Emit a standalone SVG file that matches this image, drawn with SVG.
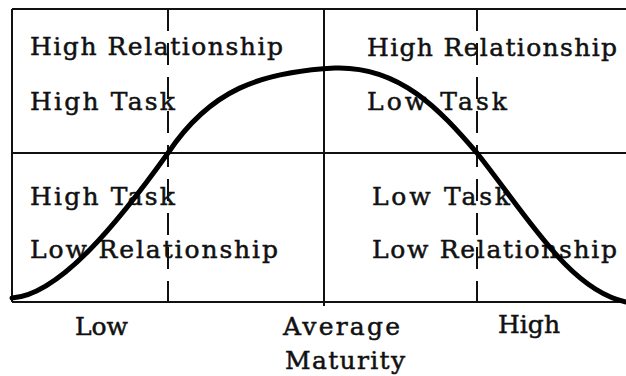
<svg xmlns="http://www.w3.org/2000/svg" width="626" height="376" viewBox="0 0 626 376">
<style>
.t{font-family:"DejaVu Serif","Liberation Serif",serif;font-size:25px;fill:#111;stroke:#111;stroke-width:0.5}
.ln{stroke:#111;stroke-width:2;fill:none}
.ds{stroke:#111;stroke-width:2;fill:none;stroke-dasharray:22 12}
.cv{stroke:#000;stroke-width:5;fill:none;stroke-linecap:round}
</style>
<rect width="626" height="376" fill="#fff"/>
<g id="grid">
<path class="ln" d="M12,9 H626 M12,153 H626 M12,302 H626 M12,9 V302 M324,9 V306"/>
<path class="ds" d="M168,9 V302 M477,9 V302"/>
</g>
<g id="q1"><text class="t" x="30" y="55" textLength="253" lengthAdjust="spacing">High Relationship</text><text class="t" x="30" y="110" textLength="145" lengthAdjust="spacing">High Task</text></g>
<g id="q2"><text class="t" x="367" y="56" textLength="250" lengthAdjust="spacing">High Relationship</text><text class="t" x="367" y="110" textLength="140" lengthAdjust="spacing">Low Task</text></g>
<g id="q3"><text class="t" x="30" y="205" textLength="145" lengthAdjust="spacing">High Task</text><text class="t" x="30" y="258" textLength="248" lengthAdjust="spacing">Low Relationship</text></g>
<g id="q4"><text class="t" x="372" y="205" textLength="138" lengthAdjust="spacing">Low Task</text><text class="t" x="372" y="258" textLength="245" lengthAdjust="spacing">Low Relationship</text></g>
<g id="curve"><path class="cv" d="M12,298 C60,295 120,220 168,153 C210,90 260,72 335,68 C400,66 440,110 477,153 C530,220 570,290 626,302"/></g>
<g id="axis">
<text class="t" x="75" y="335" textLength="53" lengthAdjust="spacing">Low</text>
<text class="t" x="283" y="335" textLength="117" lengthAdjust="spacing">Average</text>
<text class="t" x="498" y="333" textLength="62" lengthAdjust="spacing">High</text>
<text class="t" x="285" y="369" textLength="120" lengthAdjust="spacing">Maturity</text>
</g>
</svg>
